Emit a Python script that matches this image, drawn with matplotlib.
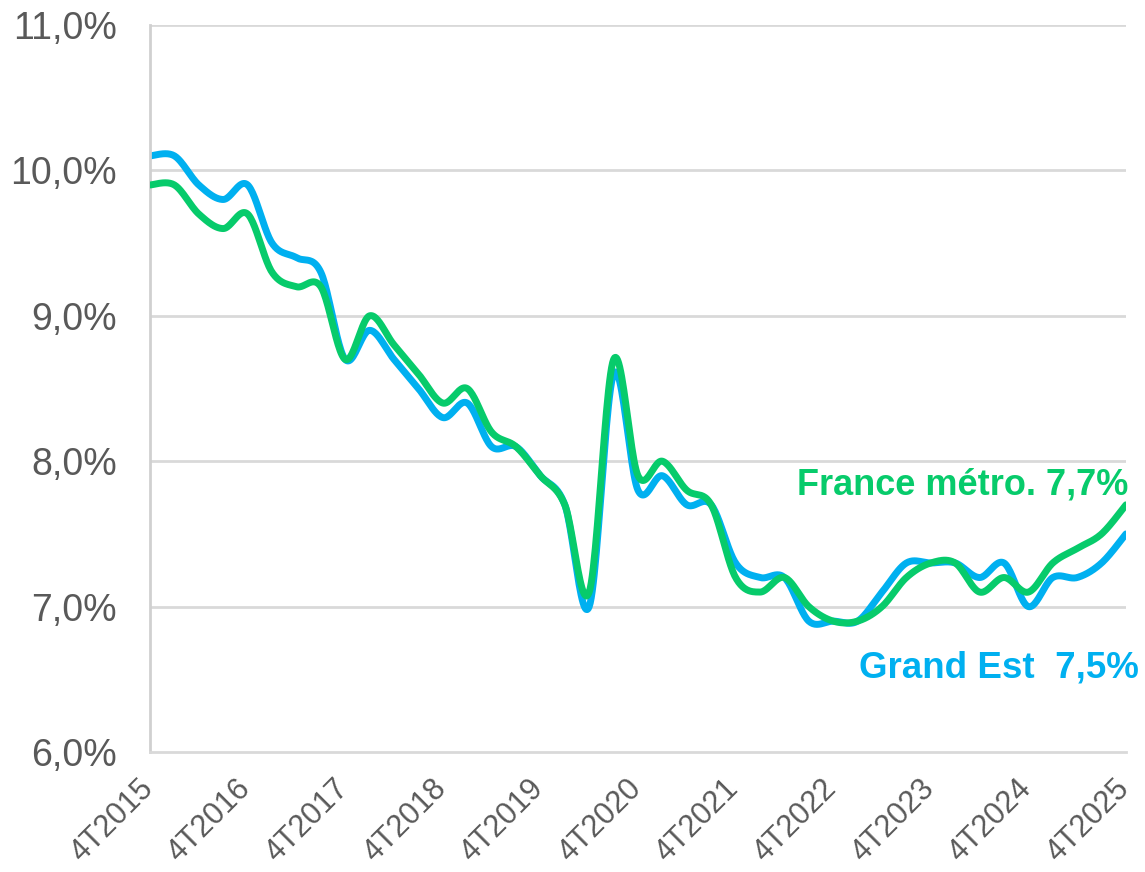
import numpy as np
import matplotlib
matplotlib.use("Agg")
import matplotlib.pyplot as plt
from matplotlib.transforms import ScaledTranslation

plt.rcParams['font.family'] = ['Liberation Sans', 'DejaVu Sans']

# Quarterly unemployment rate, 4T2015 -> 4T2025 (41 quarters)
grand_est = [10.1, 10.1, 9.9, 9.8, 9.9, 9.5, 9.4, 9.3, 8.7, 8.9,
             8.7, 8.5, 8.3, 8.4, 8.1, 8.1, 7.9, 7.7, 7.0, 8.6,
             7.8, 7.9, 7.7, 7.7, 7.3, 7.2, 7.2, 6.9, 6.9, 6.9,
             7.1, 7.3, 7.3, 7.3, 7.2, 7.3, 7.0, 7.2, 7.2, 7.3,
             7.5]
france_metro = [9.9, 9.9, 9.7, 9.6, 9.7, 9.3, 9.2, 9.2, 8.7, 9.0,
                8.8, 8.6, 8.4, 8.5, 8.2, 8.1, 7.9, 7.7, 7.1, 8.7,
                7.9, 8.0, 7.8, 7.7, 7.2, 7.1, 7.2, 7.0, 6.9, 6.9,
                7.0, 7.2, 7.3, 7.3, 7.1, 7.2, 7.1, 7.3, 7.4, 7.5,
                7.7]
tick_labels = ["4T2015", "4T2016", "4T2017", "4T2018", "4T2019", "4T2020",
               "4T2021", "4T2022", "4T2023", "4T2024", "4T2025"]
y_ticks = [6, 7, 8, 9, 10, 11]

BLUE = "#00B0F0"
GREEN = "#07CB6B"
GREY = "#595959"


def smooth(x, y, n=24):
    # Excel-like smoothed line (Catmull-Rom as cubic Bezier)
    pts = np.column_stack([x, y]).astype(float)
    p = np.vstack([pts[0], pts, pts[-1]])
    t = np.linspace(0, 1, n, endpoint=False)[:, None]
    out = []
    for i in range(1, len(p) - 2):
        p0, p1, p2, p3 = p[i - 1], p[i], p[i + 1], p[i + 2]
        c1 = p1 + (p2 - p0) / 6
        c2 = p2 - (p3 - p1) / 6
        seg = (1 - t) ** 3 * p1 + 3 * (1 - t) ** 2 * t * c1 + 3 * (1 - t) * t ** 2 * c2 + t ** 3 * p2
        out.append(seg)
    out.append(pts[-1:])
    s = np.vstack(out)
    return s[:, 0], s[:, 1]


x = np.arange(len(grand_est))

fig = plt.figure(figsize=(11.45, 8.72), dpi=100)
ax = fig.add_axes([150 / 1145, 120 / 872, 976 / 1145, 727 / 872])

for val in y_ticks[1:]:
    ax.axhline(val, color="#D9D9D9", lw=2, zorder=0)

sx, sy = smooth(x, grand_est)
ax.plot(sx, sy, color=BLUE, lw=5, solid_capstyle="round", zorder=2)
sx, sy = smooth(x, france_metro)
ax.plot(sx, sy, color=GREEN, lw=5, solid_capstyle="round", zorder=3)

ax.set_xlim(0, len(x) - 1)
ax.set_ylim(6, 11)
ax.set_yticks(y_ticks)
ax.set_yticklabels([f"{v},0%" for v in y_ticks], fontsize=27, color=GREY)
ax.set_xticks(x[::4])
ax.set_xticklabels(tick_labels, fontsize=22, color=GREY, rotation=45,
                   ha="right", va="top", rotation_mode="anchor")
ax.tick_params(axis="both", length=0)
ax.tick_params(axis="y", pad=24)
ax.tick_params(axis="x", pad=14)
shift = ScaledTranslation(-12 / 100, -2 / 100, fig.dpi_scale_trans)
for lab in ax.get_xticklabels():
    lab.set_transform(lab.get_transform() + shift)

for side in ["top", "right"]:
    ax.spines[side].set_visible(False)
ax.spines["left"].set_color("#D0D0D0")
ax.spines["left"].set_linewidth(2)
ax.spines["bottom"].set_color("#D9D9D9")
ax.spines["bottom"].set_linewidth(2)

fig.text(1128 / 1145, 1 - 495 / 872, "France métro. 7,7%", color=GREEN,
         fontsize=26, fontweight="bold", ha="right", va="baseline")
fig.text(1139 / 1145, 1 - 677 / 872, "Grand Est  7,5%", color=BLUE,
         fontsize=26.5, fontweight="bold", ha="right", va="baseline")

fig.savefig("out.png", dpi=100)
